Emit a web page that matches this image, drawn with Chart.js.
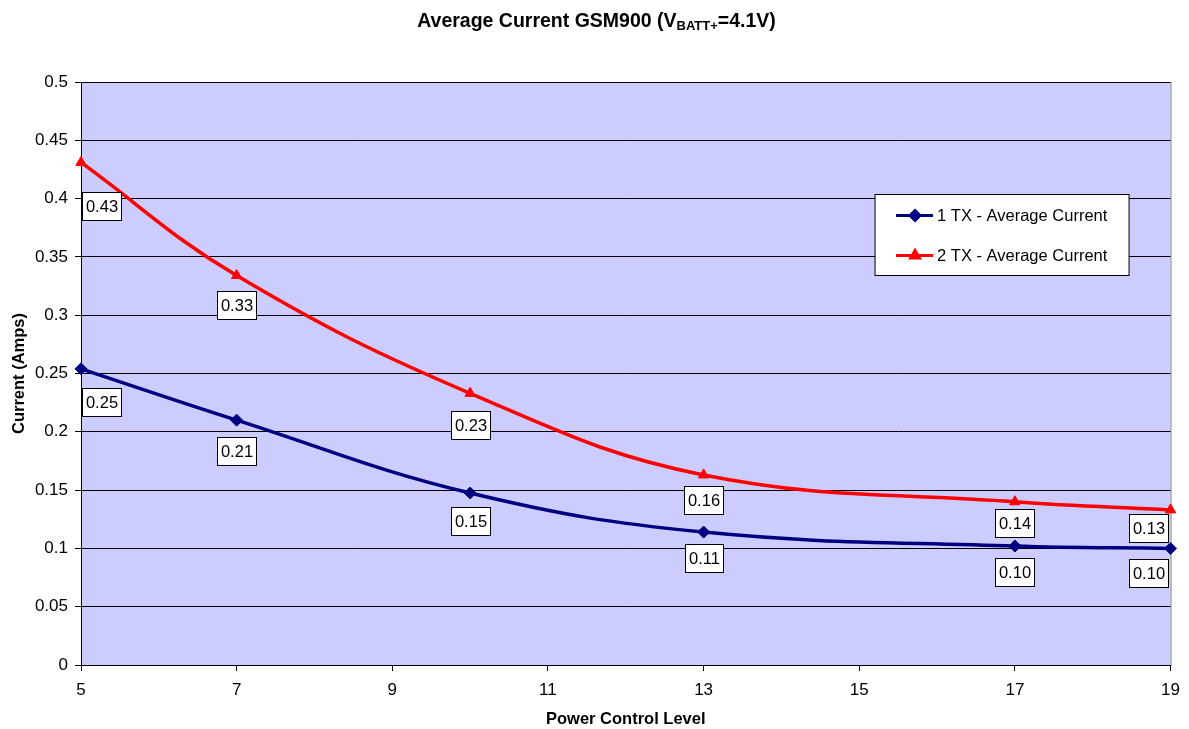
<!DOCTYPE html>
<html>
<head>
<meta charset="utf-8">
<script src="https://cdn.jsdelivr.net/npm/chart.js@4.4.1/dist/chart.umd.min.js"></script>
<style>
  html, body { margin: 0; padding: 0; background: #fff; }
  canvas { display: block; }
</style>
</head>
<body>
<canvas id="currentChart" width="1189" height="729"></canvas>
<script>
// power control levels and measured currents (Amps)
const powerLevels = [5, 7, 10, 13, 17, 19];
const oneTxCurrent = [0.254, 0.210, 0.1475, 0.114, 0.102, 0.100];
const twoTxCurrent = [0.431, 0.334, 0.233, 0.163, 0.140, 0.133];

const seriesNames = ['1 TX - Average Current', '2 TX - Average Current'];

const xTicks = [5, 7, 9, 11, 13, 15, 17, 19];
const yTicks = [0, 0.05, 0.1, 0.15, 0.2, 0.25, 0.3, 0.35, 0.4, 0.45, 0.5];
const yTickLabels = ['0', '0.05', '0.1', '0.15', '0.2', '0.25', '0.3', '0.35', '0.4', '0.45', '0.5'];

const FONT = 'Arial, "Liberation Sans", sans-serif';

// how far below each point its value box sits (px), per series
const labelDrop = [
    [33, 31, 28, 26, 26, 25],
    [44, 29, 32, 25, 21, 18]
];

function toPoints(values) {
    return powerLevels.map((x, i) => ({ x: x, y: values[i] }));
}

// plot background, border, title, value boxes and legend
const excelLook = {
    id: 'excelLook',
    beforeDraw(chart) {
        const ctx = chart.ctx;
        const a = chart.chartArea;
        ctx.save();
        ctx.fillStyle = '#ccccff';
        ctx.fillRect(a.left, a.top, a.right - a.left, a.bottom - a.top);
        ctx.strokeStyle = '#808080';
        ctx.lineWidth = 1;
        ctx.strokeRect(a.left + 0.5, a.top + 0.5, a.right - a.left, a.bottom - a.top);

        // title with subscript
        const cx = chart.width / 2 + 2;
        const base = 27;
        const p1 = 'Average Current GSM900 (V', sub = 'BATT+', p2 = '=4.1V)';
        ctx.fillStyle = '#000';
        ctx.textBaseline = 'alphabetic';
        ctx.textAlign = 'left';
        ctx.font = 'bold 19.5px ' + FONT;
        const w1 = ctx.measureText(p1).width, w3 = ctx.measureText(p2).width;
        ctx.font = 'bold 13px ' + FONT;
        const w2 = ctx.measureText(sub).width;
        let x = cx - (w1 + w2 + w3) / 2;
        ctx.font = 'bold 19.5px ' + FONT;
        ctx.fillText(p1, x, base);
        x += w1;
        ctx.font = 'bold 13px ' + FONT;
        ctx.fillText(sub, x, base + 3);
        x += w2;
        ctx.font = 'bold 19.5px ' + FONT;
        ctx.fillText(p2, x, base);
        ctx.restore();
    },
    afterDatasetsDraw(chart) {
        const ctx = chart.ctx;
        const a = chart.chartArea;
        ctx.save();
        ctx.font = '16.5px ' + FONT;
        ctx.textAlign = 'center';
        ctx.textBaseline = 'middle';
        chart.data.datasets.forEach((ds, di) => {
            const meta = chart.getDatasetMeta(di);
            meta.data.forEach((pt, i) => {
                const txt = ds.data[i].y.toFixed(2);
                const w = Math.round(ctx.measureText(txt).width) + 7;
                const h = 28;
                let cx = pt.x;
                cx = Math.max(a.left + w / 2 + 1, Math.min(a.right - w / 2 - 3, cx));
                const cy = pt.y + labelDrop[di][i];
                const left = Math.round(cx - w / 2) + 0.5, top = Math.round(cy - h / 2) + 0.5;
                ctx.fillStyle = '#fff';
                ctx.fillRect(left, top, w, h);
                ctx.strokeStyle = '#000';
                ctx.lineWidth = 1;
                ctx.strokeRect(left, top, w, h);
                ctx.fillStyle = '#000';
                ctx.fillText(txt, left + w / 2, top + h / 2 + 1);
            });
        });

        // legend
        const bw = 254, bh = 81;
        const bx = a.right - 42 - bw + 0.5, by = a.top + 112 + 0.5;
        ctx.fillStyle = '#fff';
        ctx.fillRect(bx, by, bw, bh);
        ctx.strokeStyle = '#000';
        ctx.strokeRect(bx, by, bw, bh);
        ctx.textAlign = 'left';
        chart.data.datasets.forEach((ds, di) => {
            const y = by + 21 + di * 40;
            ctx.strokeStyle = ds.borderColor;
            ctx.lineWidth = 3;
            ctx.beginPath();
            ctx.moveTo(bx + 21, y);
            ctx.lineTo(bx + 58, y);
            ctx.stroke();
            ctx.fillStyle = ds.backgroundColor;
            Chart.helpers.drawPoint(ctx, {
                pointStyle: ds.pointStyle, radius: 5, rotation: 0, borderWidth: 1
            }, bx + 40, y);
            ctx.fillStyle = '#000';
            ctx.fillText(ds.label, bx + 62, y + 1);
        });
        ctx.restore();
    }
};

new Chart(document.getElementById('currentChart'), {
    type: 'line',
    data: {
        datasets: [{
            label: seriesNames[0],
            data: toPoints(oneTxCurrent),
            borderColor: '#000080',
            backgroundColor: '#000080',
            borderWidth: 3.5,
            pointStyle: 'rectRot',
            pointRadius: 6,
            pointBorderWidth: 1,
            tension: 0.4,
            clip: false
        }, {
            label: seriesNames[1],
            data: toPoints(twoTxCurrent),
            borderColor: '#ff0000',
            backgroundColor: '#ff0000',
            borderWidth: 3.5,
            pointStyle: 'triangle',
            pointRadius: 6,
            pointBorderWidth: 1,
            tension: 0.4,
            clip: false
        }]
    },
    options: {
        responsive: false,
        animation: false,
        layout: { padding: { top: 82, right: 17, left: 0, bottom: 0 } },
        plugins: {
            legend: { display: false },
            title: { display: false },
            tooltip: { enabled: false }
        },
        scales: {
            x: {
                type: 'linear',
                min: 5,
                max: 19,
                afterBuildTicks: function(scale) {
                    scale.ticks = xTicks.map(v => ({ value: v }));
                },
                afterFit: function(scale) { scale.height = 64; },
                ticks: {
                    color: '#000',
                    font: { family: FONT, size: 17 },
                    padding: 9,
                    maxRotation: 0
                },
                grid: { drawOnChartArea: false, drawTicks: true, tickLength: 6, color: '#000' },
                border: { color: '#000', width: 1 },
                title: {
                    display: true,
                    text: 'Power Control Level',
                    color: '#000',
                    font: { family: FONT, size: 16.5, weight: 'bold' },
                    padding: { top: 0, bottom: 0 }
                }
            },
            y: {
                min: 0,
                max: 0.5,
                afterBuildTicks: function(scale) {
                    scale.ticks = yTicks.map(v => ({ value: v }));
                },
                afterFit: function(scale) { scale.width = 81; },
                ticks: {
                    color: '#000',
                    font: { family: FONT, size: 17 },
                    padding: 7,
                    callback: function(value, index) { return yTickLabels[index]; }
                },
                grid: { color: '#000', lineWidth: 1, tickLength: 6, drawTicks: true },
                border: { color: '#000', width: 1 },
                title: {
                    display: true,
                    text: 'Current (Amps)',
                    color: '#000',
                    font: { family: FONT, size: 16.5, weight: 'bold' },
                    padding: { top: 10, bottom: 0 }
                }
            }
        }
    },
    plugins: [excelLook]
});
</script>
</body>
</html>
